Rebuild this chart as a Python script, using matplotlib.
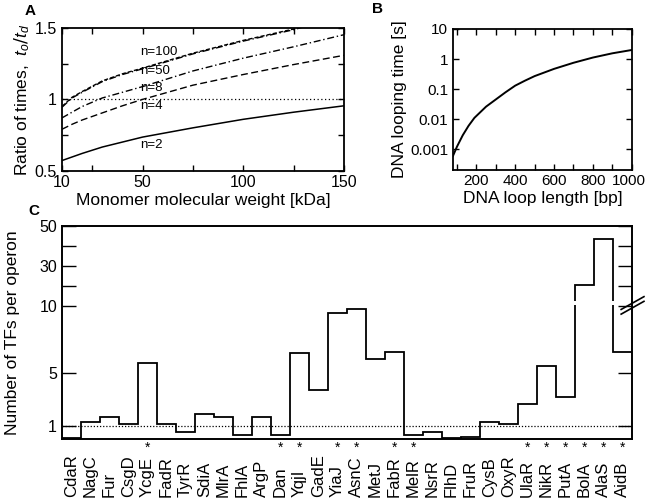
import numpy as np
import matplotlib
matplotlib.use("Agg")
import matplotlib.pyplot as plt
from matplotlib.transforms import blended_transform_factory, ScaledTranslation

plt.rcParams['font.family'] = ['Liberation Sans', 'DejaVu Sans']
plt.rcParams['mathtext.fontset'] = 'custom'
plt.rcParams['mathtext.it'] = 'Liberation Sans:italic'

# Panel A: ratio of times vs monomer molecular weight
mw = [10, 15, 20, 30, 40, 50, 75, 100, 125, 150]
ratio_n2 = [0.57, 0.595, 0.62, 0.665, 0.70, 0.735, 0.80, 0.86, 0.91, 0.955]
ratio_n4 = [0.79, 0.825, 0.855, 0.905, 0.955, 1.0, 1.10, 1.175, 1.245, 1.31]
ratio_n8 = [0.87, 0.91, 0.95, 1.01, 1.05, 1.09, 1.20, 1.29, 1.37, 1.455]
mw_top = [10, 15, 20, 30, 40, 50, 75, 100, 125, 135]
ratio_n50 = [0.945, 1.01, 1.05, 1.125, 1.175, 1.215, 1.32, 1.41, 1.49, 1.53]
ratio_n100 = [0.95, 1.015, 1.055, 1.13, 1.18, 1.22, 1.325, 1.415, 1.495, 1.535]

# Panel B: DNA looping time vs loop length
loop_len = [80, 100, 130, 160, 190, 250, 300, 350, 400, 450, 500, 600, 700,
            800, 900, 1000]
loop_time = [6e-4, 1.2e-3, 2.9e-3, 6e-3, 0.011, 0.026, 0.045, 0.078, 0.13,
             0.19, 0.27, 0.47, 0.75, 1.12, 1.55, 2.0]

# Panel C: number of TFs per operon
tf_names = ['CdaR', 'NagC', 'Fur', 'CsgD', 'YcgE', 'FadR', 'TyrR', 'SdiA',
            'MlrA', 'FhlA', 'ArgP', 'Dan', 'YqjI', 'GadE', 'YiaJ', 'AsnC',
            'MetJ', 'FabR', 'MelR', 'NsrR', 'FlhD', 'FruR', 'CysB', 'OxyR',
            'UlaR', 'NikR', 'PutA', 'BolA', 'AlaS', 'AidB']
tf_counts = [0.12, 1.32, 1.65, 1.15, 5.7, 1.17, 0.55, 1.92, 1.67, 0.32,
             1.67, 0.32, 6.5, 3.72, 9.5, 9.8, 6.0, 6.55, 0.32, 0.55,
             0.07, 0.2, 1.27, 1.15, 2.65, 5.5, 3.15, 20.5, 43.3, 6.57]
starred = ['YcgE', 'Dan', 'YqjI', 'YiaJ', 'AsnC', 'FabR', 'MelR', 'UlaR',
           'NikR', 'PutA', 'BolA', 'AlaS', 'AidB']

fig = plt.figure(figsize=(6.47, 4.99), dpi=100)

# ---- A ----
axA = fig.add_axes([0.0958, 0.6583, 0.4359, 0.285])
axA.plot(mw, ratio_n2, color='black', lw=1.1, ls='-')
axA.plot(mw, ratio_n4, color='black', lw=1.0, ls=(0, (5, 2.5)))
axA.plot(mw, ratio_n8, color='black', lw=1.0, ls=(0, (5, 2, 1, 2)))
axA.plot(mw_top, ratio_n50, color='black', lw=1.0, ls=(0, (5, 2, 1, 2)))
axA.plot(mw_top, ratio_n100, color='black', lw=1.0, ls=(0, (3, 1.5)))
axA.axhline(1, color='black', lw=0.9, ls=(0, (1, 2)))
axA.set_xlim(10, 150)
axA.set_ylim(0.5, 1.5)
axA.set_xticks([10, 50, 100, 150])
axA.set_xticks([25, 75, 125], minor=True)
axA.set_yticks([0.5, 1, 1.5])
axA.set_yticklabels(['0.5', '1', '1.5'])
axA.set_yticks([0.75, 1.25], minor=True)
axA.tick_params(which='both', direction='in', top=True, right=True,
                labelsize=11.5, length=4, width=1)
for s in axA.spines.values():
    s.set_linewidth(1.3)
for lab, y in [('n=100', 1.332), ('n=50', 1.203), ('n=8', 1.083),
               ('n=4', 0.956), ('n=2', 0.68)]:
    axA.text(48.7, y, lab, fontsize=9.5, va='center', ha='left')
axA.set_xlabel('Monomer molecular weight [kDa]', fontsize=12.5, labelpad=2)
axA.set_ylabel('Ratio of times,  $t_o/t_d$', fontsize=12.5, labelpad=2)

# ---- B ----
axB = fig.add_axes([0.7002, 0.6603, 0.2762, 0.2816])
axB.semilogy(loop_len, loop_time, color='black', lw=1.4)
axB.set_xlim(80, 1000)
axB.set_ylim(2.1e-4, 10)
axB.set_xticks([200, 400, 600, 800, 1000])
axB.set_xticks([100, 300, 500, 700, 900], minor=True)
axB.set_yticks([0.001, 0.01, 0.1, 1, 10])
axB.set_yticklabels(['0.001', '0.01', '0.1', '1', '10'])
axB.yaxis.set_minor_locator(matplotlib.ticker.NullLocator())
axB.tick_params(which='both', direction='in', top=True, right=True,
                labelsize=11, length=4, width=1)
for s in axB.spines.values():
    s.set_linewidth(1.3)
# nudge the last x label so it stays inside the figure
last = axB.get_xticklabels()[-1]
last.set_transform(last.get_transform() + ScaledTranslation(-3 / 100, 0, fig.dpi_scale_trans))
axB.set_xlabel('DNA loop length [bp]', fontsize=12.5, labelpad=2)
axB.set_ylabel('DNA looping time [s]', fontsize=12.5, labelpad=2)

# ---- C ----
def fwd(y):
    y = np.asarray(y, float)
    return np.where(y <= 10, y, 10 + (y - 10) * 0.15)

def inv(u):
    u = np.asarray(u, float)
    return np.where(u <= 10, u, 10 + (u - 10) / 0.15)

axC = fig.add_axes([0.0958, 0.1196, 0.881, 0.4275])
axC.set_yscale('function', functions=(fwd, inv))
edges = np.arange(len(tf_counts) + 1)
axC.stairs(tf_counts, edges, baseline=None, color='black', lw=1.3, zorder=2)
axC.axhline(1, color='black', lw=0.9, ls=(0, (1, 1.5)), zorder=1)
axC.axhspan(10.6, 12.6, xmin=0.003, xmax=0.997, color='white', lw=0, zorder=3)
axC.set_xlim(0, len(tf_counts))
axC.set_ylim(0, 50)
axC.set_xticks([])
axC.set_yticks([1, 5, 10, 20, 30, 40, 50])
axC.set_yticklabels(['1', '5', '10', '', '30', '', '50'])
axC.tick_params(axis='y', direction='in', right=True, labelsize=11.5,
                length=10, width=1)
for s in axC.spines.values():
    s.set_linewidth(1.4)
axC.set_ylabel('Number of TFs per operon', fontsize=12.5, labelpad=14)

trans = blended_transform_factory(axC.transData, fig.transFigure)
for i, name in enumerate(tf_names):
    axC.text(i + 0.5, 0.004, name, transform=trans, rotation=90,
             ha='center', va='bottom', fontsize=12)
    if name in starred:
        axC.text(i + 0.5, 0.116, '*', transform=trans, ha='center',
                 va='top', fontsize=10)

# axis break mark on the right spine
yb = fwd(10.3) / 16.0
for dy in (-0.011, 0.011):
    axC.plot([0.981, 1.021], [yb - 0.03 + dy, yb + 0.03 + dy],
             transform=axC.transAxes, color='black', lw=1.2,
             clip_on=False, zorder=5)

# panel letters
fig.text(0.046, 0.978, 'A', fontsize=11, fontweight='bold', va='center', ha='center')
fig.text(0.584, 0.982, 'B', fontsize=11, fontweight='bold', va='center', ha='center')
fig.text(0.052, 0.577, 'C', fontsize=11, fontweight='bold', va='center', ha='center')

fig.savefig('out.png', dpi=100)
